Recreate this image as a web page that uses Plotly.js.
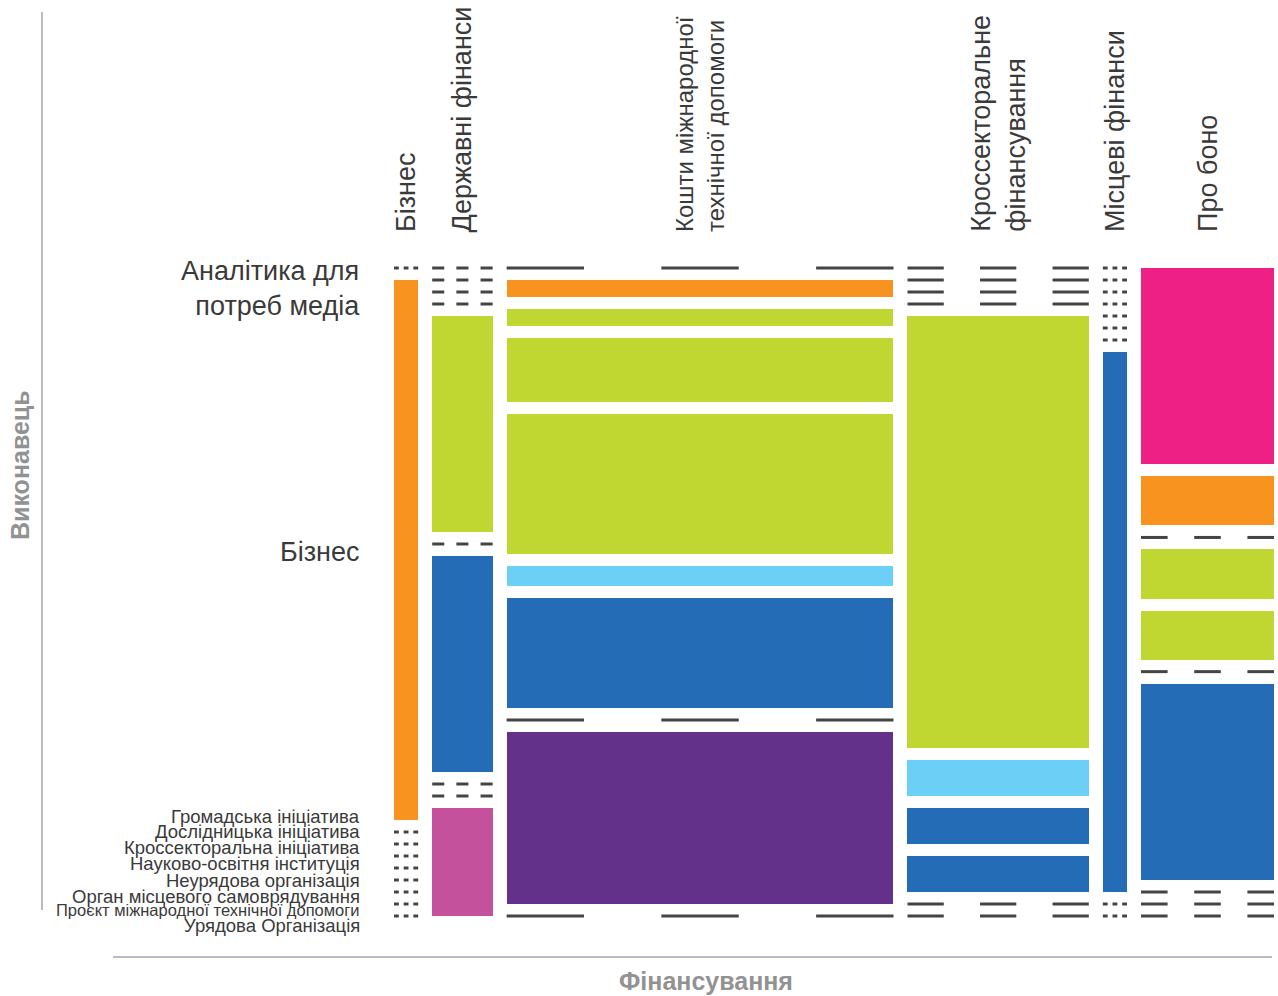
<!DOCTYPE html>
<html><head><meta charset="utf-8">
<script src="https://cdn.plot.ly/plotly-3.0.1.min.js"></script>
<style>body{margin:0;background:#fff}</style>
</head><body><div id="chart" style="width:1278px;height:996px"></div>
<script>
// ---------- DATA ----------
const fundingCategories = ["Бізнес","Державні фінанси","Кошти міжнародної технічної допомоги","Кроссекторальне фінансування","Місцеві фінанси","Про боно"];
const fundingLabels = ["Бізнес","Державні фінанси","Кошти міжнародної<br>технічної допомоги","Кроссекторальне<br>фінансування","Місцеві фінанси","Про боно"];
const performerCategories = ["Аналітика для потреб медіа","Бізнес","Громадська ініціатива","Дослідницька ініціатива","Кроссекторальна ініціатива","Науково-освітня інституція","Неурядова організація","Орган місцевого самоврядування","Проєкт міжнародної технічної допомоги","Урядова Організація"];
const performerLabels = ["Аналітика для<br>потреб медіа","Бізнес","Громадська ініціатива","Дослідницька ініціатива","Кроссекторальна ініціатива","Науково-освітня інституція","Неурядова організація","Орган місцевого самоврядування","Проєкт міжнародної технічної допомоги","Урядова Організація"];
// values per funding column, in performer order
const valuesBusiness = [0,2,0,0,0,0,0,0,0,0];
const valuesState    = [0,0,0,0,2,0,2,0,0,1];
const valuesIntl     = [0,1.0,1.0,3.8,8.3,1.2,6.5,0,10.2,0];
const valuesCross    = [0,0,0,0,12,1,1,1,0,0];
const valuesLocal    = [0,0,0,0,0,0,0,2,0,0];
const valuesProBono  = [4,1,0,1,1,0,4,0,0,0];

// ---------- STYLE ----------
const performerColors = ["#ee1f85","#f7931e","#bfd730","#bfd730","#bfd730","#6bcff6","#246db6","#246db6","#63318a","#c4519c"];
const FONT = "Liberation Sans, Arial, Helvetica, sans-serif";
const TXT = "#3a3a3a";
const W = 1278, H = 996;
const plotLeft = 394, plotRight = 1274, plotTop = 268, plotBottom = 916, pad = 6;
const colGapPx = 14, rowGapPx = 12;
const headerSize = [27, 27, 24, 27, 27, 27];
// y label centre positions (px)
const labelY = [288, 552, 816, 831, 847, 863, 880, 896, 910, 925];
const labelSize = [27, 27, 18.5, 18.5, 18.5, 18.5, 18.5, 18.5, 16.5, 18.5];

// ---------- MOSAIC LAYOUT ----------
const cols = [valuesBusiness, valuesState, valuesIntl, valuesCross, valuesLocal, valuesProBono];
const colTotals = cols.map(c => c.reduce((a,b)=>a+b,0));
const grand = colTotals.reduce((a,b)=>a+b,0);
const colGapFrac = colGapPx/(plotRight-plotLeft);
const XT = grand/(1-(cols.length-1)*colGapFrac);
const colGap = XT*colGapFrac;
const x0s = []; let cx = 0;
colTotals.forEach(t => { x0s.push(cx); cx += t + colGap; });
const spanPx = plotBottom - plotTop;
const rowGap = rowGapPx/spanPx;
const usable = 1 - (performerCategories.length-1)*rowGap;

const cells = [];
cols.forEach((col, j) => {
  let y = 0;
  col.forEach((v, i) => {
    const h = v/colTotals[j]*usable;
    cells.push({i, j, v, y0: y, h});
    y += h + rowGap;
  });
});

const traces = [];
performerCategories.forEach((p, i) => {
  const cs = cells.filter(c => c.i === i && c.v > 0);
  if (!cs.length) return;
  traces.push({
    type: 'bar', name: p,
    x: cs.map(c => x0s[c.j] + colTotals[c.j]/2),
    width: cs.map(c => colTotals[c.j]),
    base: cs.map(c => c.y0),
    y: cs.map(c => c.h),
    marker: {color: performerColors[i], line: {width: 0}},
    hoverinfo: 'skip', showlegend: false
  });
});
// zero cells drawn as dashed lines (3 dashes, 5 equal parts)
const dx = [], dy = [];
cells.filter(c => c.v === 0).forEach(c => {
  const x0 = x0s[c.j], w = colTotals[c.j];
  [0, 2, 4].forEach(k => {
    dx.push(x0 + k*w/5, x0 + (k+1)*w/5, null);
    dy.push(c.y0, c.y0, null);
  });
});
traces.push({type:'scatter', mode:'lines', x: dx, y: dy, line:{color:'#444', width:3},
  hoverinfo:'skip', showlegend:false, connectgaps:false});

// ---------- ANNOTATIONS ----------
const px2py = p => 1 - p/H;
const px2pxr = p => p/W;
const annotations = [];
fundingLabels.forEach((lab, j) => {
  annotations.push({
    text: lab, xref:'x', x: x0s[j] + colTotals[j]/2, yref:'paper', y: px2py(234),
    xanchor:'center', yanchor:'bottom', textangle:-90, align:'left', showarrow:false,
    font:{family:FONT, size:headerSize[j], color:TXT}
  });
});
performerLabels.forEach((lab, i) => {
  annotations.push({
    text: lab, xref:'paper', x: px2pxr(362), yref:'paper', y: px2py(labelY[i]),
    xanchor:'right', yanchor:'middle', align:'right', showarrow:false,
    font:{family:FONT, size:labelSize[i], color:TXT}
  });
});
annotations.push({text:'<b>Виконавець</b>', xref:'paper', x:px2pxr(20), yref:'paper', y:px2py(465),
  xanchor:'center', yanchor:'middle', textangle:-90, showarrow:false,
  font:{family:FONT, size:25, color:'#929292'}});
annotations.push({text:'<b>Фінансування</b>', xref:'paper', x:px2pxr(706), yref:'paper', y:px2py(981),
  xanchor:'center', yanchor:'middle', showarrow:false,
  font:{family:FONT, size:25, color:'#929292'}});

const shapes = [
  {type:'line', xref:'paper', yref:'paper', x0:px2pxr(42), x1:px2pxr(42), y0:px2py(12), y1:px2py(910),
   line:{color:'#b8bbc4', width:2}},
  {type:'line', xref:'paper', yref:'paper', x0:px2pxr(113), x1:px2pxr(1272), y0:px2py(957), y1:px2py(957),
   line:{color:'#b8bbc4', width:2}}
];

const layout = {
  width: W, height: H, margin:{l:0, r:0, t:0, b:0},
  paper_bgcolor:'#fff', plot_bgcolor:'#fff',
  barmode:'overlay', bargap:0,
  xaxis:{range:[0, XT], domain:[px2pxr(plotLeft), px2pxr(plotRight)], visible:false, fixedrange:true},
  yaxis:{range:[1 + pad/spanPx, -pad/spanPx], domain:[px2py(plotBottom+pad), px2py(plotTop-pad)], visible:false, fixedrange:true},
  annotations, shapes, showlegend:false
};
Plotly.newPlot('chart', traces, layout, {staticPlot:true, displayModeBar:false});
</script></body></html>
